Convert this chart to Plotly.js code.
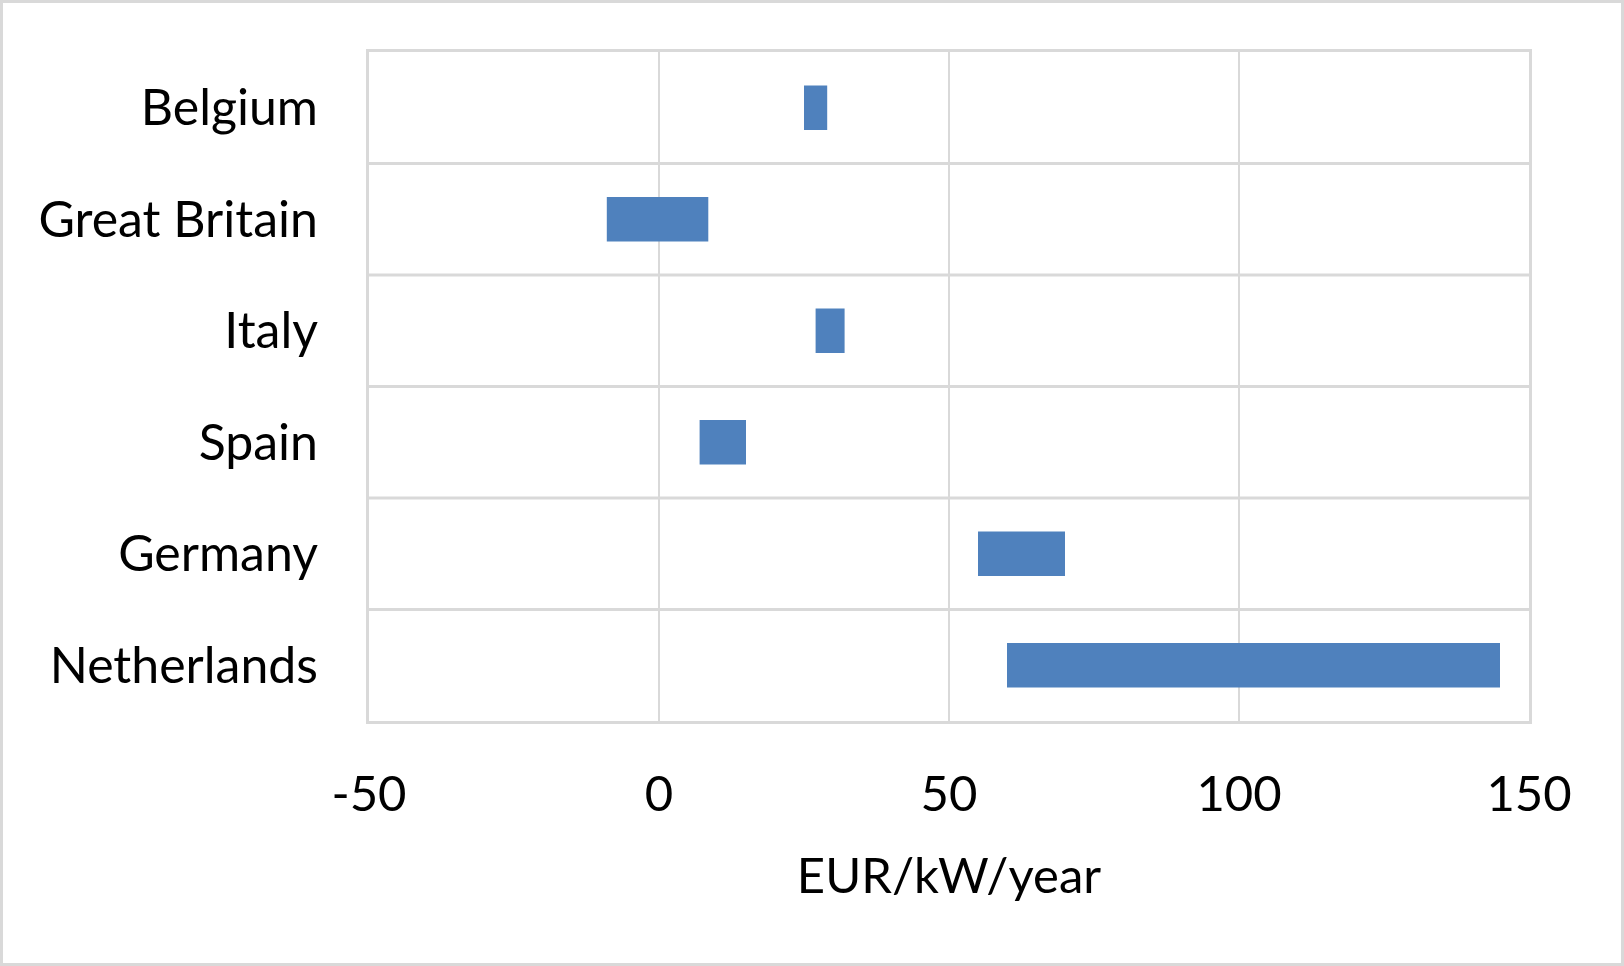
<!DOCTYPE html>
<html>
<head>
<meta charset="utf-8">
<script src="https://cdn.plot.ly/plotly-3.0.1.min.js"></script>
<style>
  html, body { margin: 0; padding: 0; background: #fff; }
  #chart { width: 1624px; height: 966px; box-sizing: border-box; border: 3px solid #d9d9d9; }
</style>
</head>
<body>
<div id="chart"></div>
<script>
// Countries, top to bottom
var countries = ['Belgium', 'Great Britain', 'Italy', 'Spain', 'Germany', 'Netherlands'];
// Range of each bar, EUR/kW/year
var lowValues = [25, -9, 27, 7, 55, 60];
var highValues = [29, 8.5, 32, 15, 70, 145];

var xTicks = [-50, 0, 50, 100, 150];

var widths = highValues.map((h, i) => h - lowValues[i]);

var font = 'Lato, "Open Sans", sans-serif';

var trace = {
    type: 'bar',
    orientation: 'h',
    y: countries,
    x: widths,
    base: lowValues,
    width: 0.4,
    marker: { color: '#4f81bd' },
    hoverinfo: 'skip'
};

var layout = {
    width: 1618,
    height: 960,
    margin: { l: 366, r: 92, t: 49, b: 242 },
    paper_bgcolor: '#fff',
    plot_bgcolor: '#fff',
    showlegend: false,
    font: { family: font, size: 50, color: '#000' },
    xaxis: {
        range: [-50, 150],
        tickvals: xTicks,
        ticktext: xTicks.map(String),
        tickfont: { size: 49 },
        showgrid: true,
        gridcolor: '#d9d9d9',
        gridwidth: 2,
        zeroline: false,
        showline: true,
        linecolor: '#d9d9d9',
        linewidth: 3,
        mirror: true,
        ticks: '',
        ticklabelstandoff: 28,
        title: { text: 'EUR/kW/year', standoff: 39, font: { family: font, size: 49 } }
    },
    yaxis: {
        type: 'category',
        categoryorder: 'array',
        categoryarray: countries,
        autorange: 'reversed',
        showgrid: false,
        showline: true,
        linecolor: '#d9d9d9',
        linewidth: 3,
        mirror: true,
        ticks: '',
        ticklabelstandoff: 38
    },
    shapes: countries.slice(1).map((c, i) => ({
        type: 'line',
        xref: 'paper', yref: 'y',
        x0: 0, x1: 1,
        y0: i + 0.5, y1: i + 0.5,
        line: { color: '#d9d9d9', width: 3 },
        layer: 'below'
    }))
};

Plotly.newPlot('chart', [trace], layout, { displayModeBar: false, staticPlot: true });
</script>
</body>
</html>
